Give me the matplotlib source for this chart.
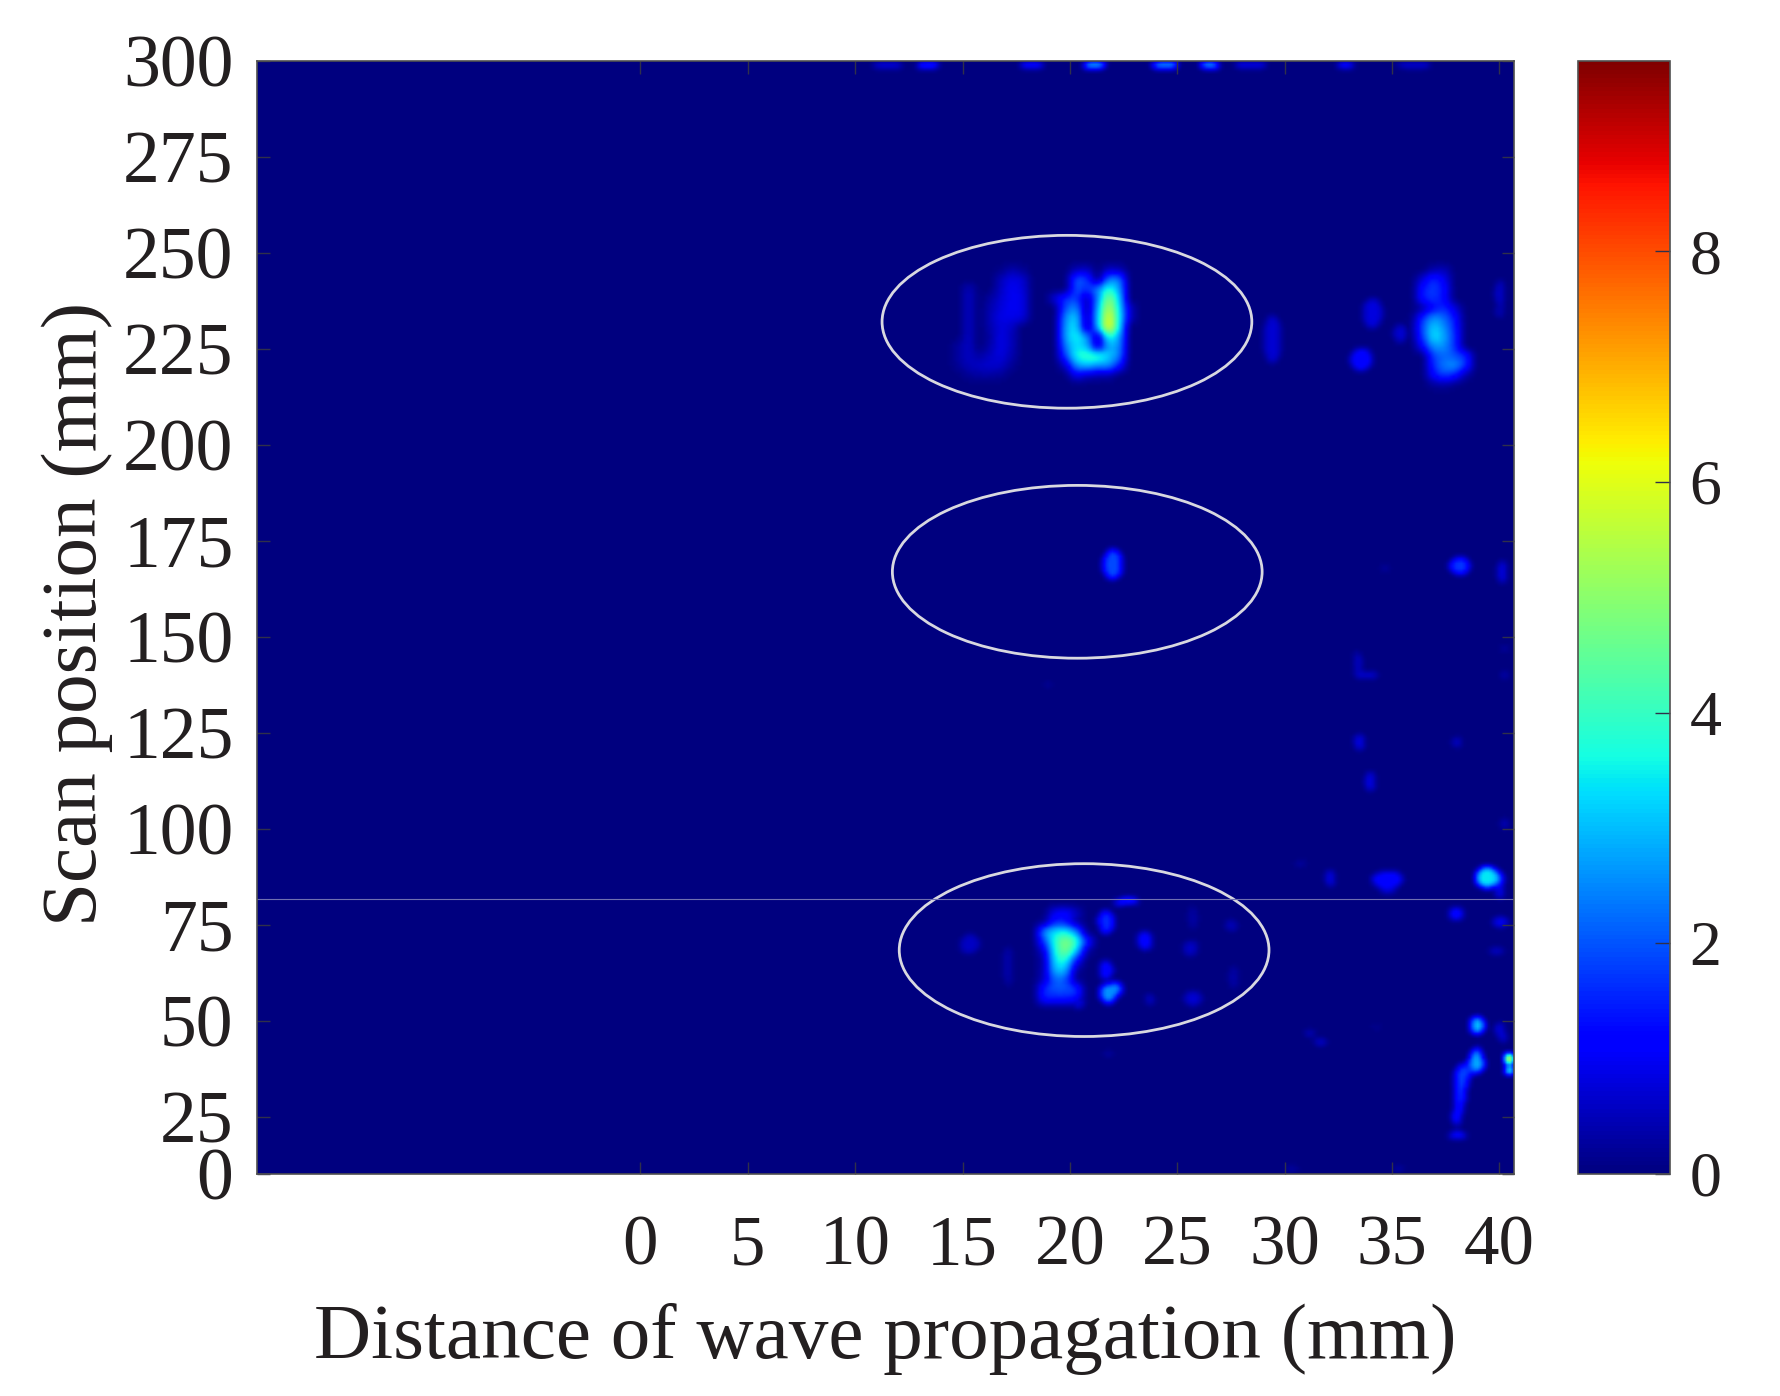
import numpy as np
import matplotlib
matplotlib.use("Agg")
import matplotlib.pyplot as plt
from matplotlib.patches import Ellipse

plt.rcParams["font.family"] = ["Liberation Serif", "DejaVu Serif"]

X_MIN, X_MAX = -17.86, 40.68
Y_MIN, Y_MAX = 10.2, 300.0
V_MAX = 9.65

x_ticks = [0, 5, 10, 15, 20, 25, 30, 35, 40]
y_ticks = [10.2, 25, 50, 75, 100, 125, 150, 175, 200, 225, 250, 275, 300]
y_tick_labels = ["0", "25", "50", "75", "100", "125", "150", "175", "200", "225", "250", "275", "300"]
cbar_ticks = [0, 2, 4, 6, 8]

# large echoes, one row per 2.5 mm of scan, one column per 0.5 mm of distance
# first value of each origin is x of column 0, second is y of row 0 (top row)
echo_center_origin = (19.14, 245.0)
echo_center = [
    [0, 0, 0.5, 0.6, 0, 0.6, 0.5, 0],
    [0, 0, 2.0, 1.8, 0, 2.4, 2.4, 0],
    [0, 0, 2.0, 1.6, 2.4, 3.8, 2.8, 0],
    [0.8, 1.6, 1.8, 0.4, 2.4, 5.0, 3.2, 0],
    [0, 2.0, 2.6, 0.2, 2.8, 5.6, 3.4, 0.6],
    [0, 2.6, 3.2, 0.3, 3.0, 6.2, 3.6, 0.6],
    [0, 2.8, 3.4, 0.3, 2.8, 6.4, 3.4, 0],
    [0, 2.8, 3.6, 2.6, 0.4, 3.8, 2.8, 0],
    [0, 2.4, 3.4, 3.0, 0.6, 2.8, 2.6, 0],
    [0, 1.8, 3.6, 4.0, 4.0, 3.2, 2.4, 0],
    [0, 0.6, 2.6, 3.0, 2.6, 2.6, 1.4, 0],
    [0, 0, 1.0, 0.6, 0.4, 0.4, 0, 0],
]

echo_left_origin = (14.6, 245.0)
echo_left = [
    [0, 0, 0, 0, 0.1, 0.4, 0.2],
    [0, 0, 0, 0, 0.5, 0.9, 0.7],
    [0, 0.5, 0, 0, 0.6, 1.0, 0.8],
    [0, 0.6, 0, 0.3, 0.7, 1.0, 0.9],
    [0, 0.6, 0, 0.4, 0.8, 1.0, 0.9],
    [0, 0.6, 0, 0.5, 0.9, 0.9, 0.8],
    [0, 0.6, 0, 0.4, 0.8, 0.6, 0],
    [0, 0.6, 0, 0.3, 0.9, 0.5, 0],
    [0.3, 0.6, 0, 0.4, 0.9, 0.5, 0],
    [0.3, 0.6, 0.3, 0.6, 0.8, 0.4, 0],
    [0.2, 0.5, 0.6, 0.7, 0.6, 0.2, 0],
    [0, 0.2, 0.3, 0.3, 0.2, 0, 0],
]

echo_right_origin = (35.76, 245.0)
echo_right = [
    [0, 0, 0.4, 0.5, 0, 0],
    [0, 0.8, 1.6, 1.0, 0, 0],
    [0, 1.4, 1.8, 1.3, 0, 0],
    [0, 1.4, 1.7, 1.2, 0, 0],
    [0, 0.3, 1.2, 1.6, 0.8, 0],
    [0.1, 1.6, 2.6, 2.2, 1.3, 0],
    [0.2, 2.0, 3.2, 2.6, 1.5, 0],
    [0.1, 1.8, 3.4, 2.8, 1.6, 0],
    [0, 1.2, 2.6, 2.6, 1.6, 0],
    [0, 0, 1.8, 2.2, 2.0, 1.6],
    [0, 0, 1.6, 2.4, 2.6, 1.6],
    [0, 0, 1.2, 1.8, 1.4, 0.3],
    [0, 0, 0.2, 0.3, 0.1, 0],
]

echo_bottom_origin = (18.64, 77.9)
echo_bottom = [
    [0, 1.0, 1.2, 0.6, 0],
    [0.2, 1.5, 1.4, 0.3, 0],
    [2.6, 3.4, 3.6, 2.6, 0.1],
    [1.8, 3.8, 5.0, 4.0, 1.6],
    [0.8, 3.6, 4.8, 3.2, 0.4],
    [0.4, 3.4, 3.8, 1.4, 0],
    [0.5, 3.0, 3.0, 0.3, 0],
    [0.6, 2.2, 2.0, 0.2, 0],
    [1.6, 2.0, 2.0, 1.8, 0],
    [1.4, 1.4, 1.4, 1.2, 0],
]

# small isolated spots: centre, size, peak value
spot_x = [21.98, 34.05, 33.55, 35.36, 29.4, 40.0, 40.0,
          21.66, 21.66, 21.76, 22.06, 23.47, 15.3, 17.1, 25.7, 25.6, 27.5, 27.6, 25.7, 23.67, 20.35, 21.76, 22.67, 22.26,
          39.37, 39.8, 40.0, 34.65, 35.06, 34.76, 32.09, 30.73, 37.98, 40.0, 39.8, 38.94, 40.0, 40.1, 31.13, 31.63, 34.25,
          40.4, 40.45, 38.9, 38.9, 38.28, 38.2, 38.13, 38.05, 37.98, 37.98, 30.3, 35.26,
          38.13, 34.65, 40.1, 33.35, 33.8, 33.45, 37.98, 33.95, 40.2, 40.2, 40.2, 19.0,
          11.5, 13.35, 18.2, 21.1, 24.4, 26.5, 28.4, 32.8, 36.0]
spot_y = [169.1, 234.5, 222.4, 229.2, 227.7, 239.7, 234.9,
          75.9, 63.4, 57.3, 58.5, 71.1, 70.1, 64.3, 76.9, 69.0, 75.0, 61.4, 55.9, 55.6, 55.0, 41.6, 81.3, 80.8,
          87.5, 87.2, 83.7, 86.8, 87.0, 84.6, 87.2, 91.1, 78.0, 75.9, 68.2, 48.9, 47.9, 46.0, 46.9, 44.6, 48.6,
          40.2, 37.3, 39.2, 41.6, 36.3, 33.8, 31.2, 27.7, 25.1, 20.3, 11.6, 11.6,
          168.6, 168.0, 167.2, 143.3, 140.2, 122.8, 122.8, 112.5, 140.2, 147.0, 101.5, 137.7,
          299.2, 299.2, 299.2, 299.2, 299.2, 299.2, 299.2, 299.2, 299.2]
spot_w = [0.9, 0.9, 1.0, 0.6, 0.8, 0.4, 0.4,
          0.7, 0.6, 0.8, 0.7, 0.7, 0.9, 0.4, 0.4, 0.7, 0.6, 0.4, 0.8, 0.4, 0.6, 0.4, 1.0, 0.7,
          1.0, 0.7, 0.4, 1.2, 0.8, 0.8, 0.4, 0.6, 0.6, 0.7, 0.7, 0.7, 0.4, 0.3, 0.5, 0.6, 0.5,
          0.4, 0.4, 0.7, 0.4, 0.7, 0.6, 0.5, 0.4, 0.35, 0.8, 0.6, 0.4,
          0.9, 0.4, 0.4, 0.25, 1.2, 0.5, 0.4, 0.5, 0.35, 0.35, 0.35, 0.4,
          1.4, 1.0, 1.2, 1.0, 1.2, 0.9, 1.6, 0.8, 1.6]
spot_h = [8.0, 8.0, 6.0, 5.0, 13.0, 7.0, 3.0,
          6.0, 5.0, 5.0, 3.5, 5.0, 5.0, 11.0, 6.0, 4.0, 3.0, 6.0, 4.0, 3.0, 3.5, 1.5, 1.2, 1.1,
          5.5, 4.5, 3.5, 4.0, 4.0, 3.0, 4.5, 1.5, 3.5, 2.5, 1.5, 4.5, 4.0, 3.5, 1.8, 1.2, 1.2,
          3.0, 1.6, 5.0, 3.0, 5.0, 5.0, 7.0, 6.0, 5.0, 1.8, 1.5, 1.5,
          4.5, 2.5, 6.0, 6.0, 1.2, 4.0, 2.5, 5.0, 1.8, 1.6, 3.0, 1.8,
          2.0, 2.0, 2.0, 2.0, 2.0, 2.0, 2.0, 2.0, 2.0]
spot_v = [1.9, 0.8, 1.2, 0.7, 0.7, 0.7, 0.5,
          1.6, 1.3, 2.6, 2.4, 1.2, 0.6, 0.4, 0.35, 0.6, 0.5, 0.4, 0.7, 0.6, 0.8, 0.4, 2.2, 1.0,
          3.4, 2.0, 1.0, 1.2, 1.2, 0.8, 0.9, 0.3, 1.3, 1.0, 0.8, 3.0, 0.9, 0.9, 0.5, 0.9, 0.3,
          8.0, 6.0, 2.8, 2.6, 1.8, 1.7, 1.6, 1.4, 1.4, 1.4, 0.4, 0.5,
          1.7, 0.3, 0.9, 0.8, 0.9, 0.9, 0.7, 0.9, 0.6, 0.4, 0.5, 0.3,
          0.8, 1.6, 1.3, 3.0, 2.8, 2.8, 0.9, 1.3, 0.7]

# flaw markers: centre x, centre y
ellipse_x = [19.86, 20.34, 20.66]
ellipse_y = [232.1, 167.0, 68.5]
ELLIPSE_W, ELLIPSE_H = 17.22, 45.0

TEXT_COLOR = "#231f20"
DX, DY = 0.125, 0.625  # raster cell


def smooth(z, size):
    kernel = np.ones(size) / size
    z = np.apply_along_axis(lambda r: np.convolve(r, kernel, mode="same"), 0, z)
    z = np.apply_along_axis(lambda r: np.convolve(r, kernel, mode="same"), 1, z)
    return z


def build_field():
    nx = int(round((X_MAX - X_MIN) / DX))
    ny = int(round((Y_MAX - Y_MIN) / DY))
    big = np.zeros((ny, nx))
    small = np.zeros((ny, nx))

    for echo, origin in [(echo_center, echo_center_origin), (echo_left, echo_left_origin),
                         (echo_right, echo_right_origin), (echo_bottom, echo_bottom_origin)]:
        cells = np.repeat(np.repeat(np.array(echo, dtype=float), 4, axis=0), 4, axis=1)
        i0 = int(round((origin[0] - 0.25 - X_MIN) / DX))
        j1 = int(round((origin[1] + 1.25 - Y_MIN) / DY))
        big[j1 - cells.shape[0]:j1, i0:i0 + cells.shape[1]] = cells[::-1]

    # spots are stamped as filled ellipses so they come out round
    xc = X_MIN + (np.arange(nx) + 0.5) * DX
    yc = Y_MIN + (np.arange(ny) + 0.5) * DY
    for x, y, w, h, v in zip(spot_x, spot_y, spot_w, spot_h, spot_v):
        i0, i1 = np.searchsorted(xc, [x - w / 2, x + w / 2])
        j0, j1 = np.searchsorted(yc, [y - h / 2, y + h / 2])
        u = ((xc[i0:i1] - x) / (w / 2))[None, :]
        t = ((yc[j0:j1] - y) / (h / 2))[:, None]
        patch = small[j0:j1, i0:i1]
        small[j0:j1, i0:i1] = np.where(u ** 2 + t ** 2 <= 1, np.maximum(patch, v), patch)

    big = smooth(smooth(big, 4), 4)
    small = smooth(smooth(small, 3), 3)
    return np.maximum(big, small)


W, H = 1780, 1396
fig = plt.figure(figsize=(W / 100, H / 100), dpi=100)
ax = fig.add_axes([257 / W, 1 - 1174 / H, (1514 - 257) / W, (1174 - 61) / H])
cax = fig.add_axes([1578 / W, 1 - 1174 / H, (1670 - 1578) / W, (1174 - 61) / H])

im = ax.imshow(build_field(), origin="lower", extent=[X_MIN, X_MAX, Y_MIN, Y_MAX], aspect="auto",
               cmap="jet", vmin=0, vmax=V_MAX, interpolation="bilinear")

for cx, cy in zip(ellipse_x, ellipse_y):
    ax.add_patch(Ellipse((cx, cy), ELLIPSE_W, ELLIPSE_H, fill=False, edgecolor="#d8d8e0", linewidth=2.0))

ax.axhline(81.8, color="#6f6fb0", linewidth=0.8)

ax.set_xlim(X_MIN, X_MAX)
ax.set_ylim(Y_MIN, Y_MAX)
ax.set_xticks(x_ticks)
ax.set_yticks(y_ticks)
ax.set_yticklabels(y_tick_labels)
ax.tick_params(axis="both", direction="in", top=True, right=True, length=9, width=1.0,
               color="#30304a", labelcolor=TEXT_COLOR)
ax.tick_params(axis="x", pad=29, labelsize=51)
ax.tick_params(axis="y", pad=17, labelsize=53)
ax.set_xlabel("Distance of wave propagation (mm)", fontsize=57, color=TEXT_COLOR, labelpad=17)
ax.set_ylabel("Scan position (mm)", fontsize=57, color=TEXT_COLOR, labelpad=7)
ax.yaxis.label.set_y(0.503)
for side in ax.spines.values():
    side.set_color("#505050")
    side.set_linewidth(1.2)

cb = fig.colorbar(im, cax=cax)
cb.set_ticks(cbar_ticks)
cb.ax.tick_params(direction="in", length=11, width=1.0, color="#30304a", labelsize=46,
                  labelcolor=TEXT_COLOR, pad=14)
cb.outline.set_edgecolor("#505050")
cb.outline.set_linewidth(1.2)

fig.savefig("out.png", dpi=100)
